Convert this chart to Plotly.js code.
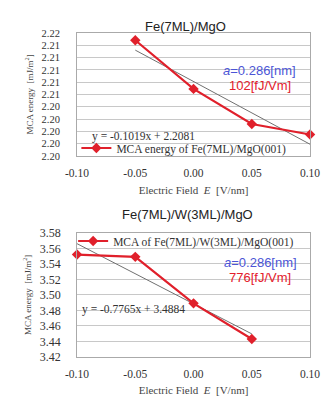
<!DOCTYPE html>
<html><head><meta charset="utf-8">
<script src="https://cdn.plot.ly/plotly-3.0.1.min.js"></script>
<style>html,body{margin:0;padding:0;background:#fff}#c{width:325px;height:396px}</style>
</head><body><div id="c"></div>
<script>
// Top chart: Fe(7ML)/MgO
const fieldTop = [-0.05, 0.00, 0.05, 0.10];
const mcaTop = [2.2148, 2.2069, 2.2012, 2.1995];
const trendTopX = [-0.05, 0.10];
const trendTopSlope = -0.1019, trendTopIntercept = 2.2081;
// Bottom chart: Fe(7ML)/W(3ML)/MgO
const fieldBot = [-0.10, -0.05, 0.00, 0.05];
const mcaBot = [3.552, 3.549, 3.489, 3.443];
const trendBotX = [-0.10, 0.05];
const trendBotSlope = -0.7765, trendBotIntercept = 3.4884;

const xTickVals = [-0.10, -0.05, 0.00, 0.05, 0.10];
const xTickText = ["-0.10", "-0.05", "0.00", "0.05", "0.10"];
const yTopTickVals = [2.196, 2.198, 2.200, 2.202, 2.204, 2.206, 2.208, 2.210, 2.212, 2.214, 2.216];
const yTopTickText = ["2.20","2.20","2.20","2.20","2.20","2.21","2.21","2.21","2.21","2.21","2.22"];
const yBotTickVals = [3.42, 3.44, 3.46, 3.48, 3.50, 3.52, 3.54, 3.56, 3.58];
const yBotTickText = ["3.42","3.44","3.46","3.48","3.50","3.52","3.54","3.56","3.58"];

const RED = '#e0202b';
const serif = 'Liberation Serif, Times New Roman, serif';
const sans = 'Liberation Sans, Arial, sans-serif';

const traces = [
  {x: trendTopX, y: trendTopX.map(v => trendTopSlope*v + trendTopIntercept), xaxis:'x', yaxis:'y',
   mode:'lines', line:{color:'#707070', width:1}, showlegend:false, hoverinfo:'skip'},
  {x: fieldTop, y: mcaTop, xaxis:'x', yaxis:'y', mode:'lines+markers', name:'MCA energy of Fe(7ML)/MgO(001)',
   line:{color:RED, width:2.2}, marker:{symbol:'diamond', size:8, color:RED}, legend:'legend', cliponaxis:false},
  {x: trendBotX, y: trendBotX.map(v => trendBotSlope*v + trendBotIntercept), xaxis:'x2', yaxis:'y2',
   mode:'lines', line:{color:'#707070', width:1}, showlegend:false, hoverinfo:'skip'},
  {x: fieldBot, y: mcaBot, xaxis:'x2', yaxis:'y2', mode:'lines+markers', name:'MCA of Fe(7ML)/W(3ML)/MgO(001)',
   line:{color:RED, width:2.2}, marker:{symbol:'diamond', size:8, color:RED}, legend:'legend2', cliponaxis:false}
];

const xcommon = {range:[-0.1,0.1], tickvals:xTickVals, ticktext:xTickText, showgrid:false, zeroline:false,
  showline:true, linecolor:'#aaa', mirror:true, ticks:'', ticklabelstandoff:6, automargin:false,
  tickfont:{family:serif, size:11.5, color:'#333'}};
const ycommon = {showgrid:true, gridcolor:'#c8c8c8', zeroline:false, showline:true, linecolor:'#aaa', mirror:true,
  ticks:'', ticklabelstandoff:13, automargin:false, tickfont:{family:serif, size:12, color:'#333'}};

const xTitle = {text:'Electric Field  <i>E</i>  [V/nm]', font:{family:serif, size:11, color:'#444'}, standoff:8};
const yTitle = {text:'MCA energy  [mJ/m<sup>2</sup>]', font:{family:serif, size:9, color:'#444'}, standoff:6};

const layout = {
  width:325, height:396, margin:{l:0,r:0,t:0,b:0}, paper_bgcolor:'#fff', plot_bgcolor:'#fff',
  showlegend:true,
  xaxis: Object.assign({}, xcommon, {domain:[0.237,0.954], anchor:'y', title:xTitle}),
  yaxis: Object.assign({}, ycommon, {domain:[0.606,0.917], anchor:'x', range:[2.196,2.216],
    tickvals:yTopTickVals, ticktext:yTopTickText, title:yTitle,
    tickfont:{family:serif, size:10.5, color:'#333'}, ticklabelstandoff:14}),
  xaxis2: Object.assign({}, xcommon, {domain:[0.237,0.954], anchor:'y2', title:xTitle}),
  yaxis2: Object.assign({}, ycommon, {domain:[0.099,0.412], anchor:'x2', range:[3.42,3.58],
    tickvals:yBotTickVals, ticktext:yBotTickText, title:yTitle}),
  legend: {x:0.235, y:(396-148)/396, xanchor:'left', yanchor:'middle', bgcolor:'rgba(0,0,0,0)', borderwidth:0,
    font:{family:serif, size:11.5, color:'#333'}, itemwidth:30},
  legend2: {x:0.225, y:(396-241)/396, xanchor:'left', yanchor:'middle', bgcolor:'rgba(0,0,0,0)', borderwidth:0,
    font:{family:serif, size:11.5, color:'#333'}, itemwidth:30},
  annotations: [
    {text:'Fe(7ML)/MgO', xref:'paper', yref:'paper', x:0.572, y:(396-17)/396, showarrow:false,
     font:{family:sans, size:13, color:'#222'}},
    {text:'Fe(7ML)/W(3ML)/MgO', xref:'paper', yref:'paper', x:0.578, y:(396-214)/396, showarrow:false,
     font:{family:sans, size:13, color:'#222'}},
    {text:'<i>a</i>=0.286[nm]', xref:'paper', yref:'paper', x:0.917, y:(396-61)/396, xanchor:'right', showarrow:false,
     font:{family:sans, size:13, color:'#4b55d6'}},
    {text:'102[fJ/Vm]', xref:'paper', yref:'paper', x:0.9, y:(396-76)/396, xanchor:'right', showarrow:false,
     font:{family:sans, size:13, color:'#e3202c'}},
    {text:'y = -0.1019x + 2.2081', xref:'paper', yref:'paper', x:0.277, y:(396-128)/396, xanchor:'left', showarrow:false,
     font:{family:serif, size:11.5, color:'#333'}},
    {text:'<i>a</i>=0.286[nm]', xref:'paper', yref:'paper', x:0.92, y:(396-272)/396, xanchor:'right', showarrow:false,
     font:{family:sans, size:13, color:'#4b55d6'}},
    {text:'776[fJ/Vm]', xref:'paper', yref:'paper', x:0.9, y:(396-287)/396, xanchor:'right', showarrow:false,
     font:{family:sans, size:13, color:'#e3202c'}},
    {text:'y = -0.7765x + 3.4884', xref:'paper', yref:'paper', x:0.245, y:(396-318)/396, xanchor:'left', showarrow:false,
     font:{family:serif, size:11.5, color:'#333'}}
  ]
};

Plotly.newPlot('c', traces, layout, {displayModeBar:false, staticPlot:true});
</script></body></html>
